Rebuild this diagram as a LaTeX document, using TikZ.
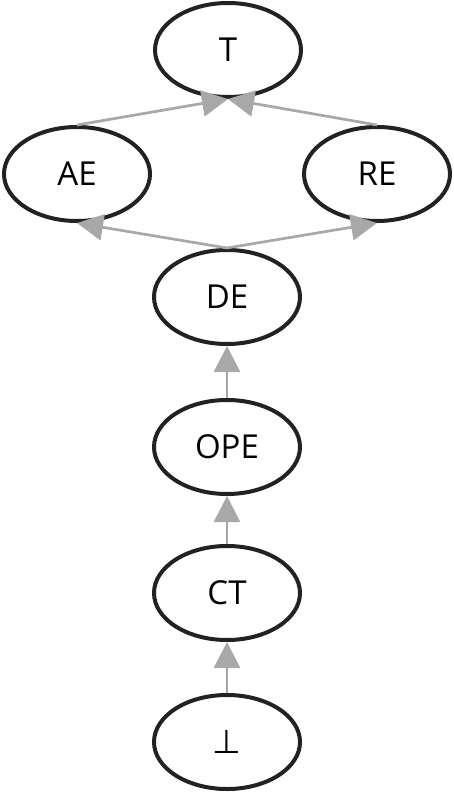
\documentclass[tikz,border=0pt]{standalone}
\usepackage{fontspec}
\setmainfont{Open Sans}
\newfontfamily\symfont{DejaVu Sans}
\usetikzlibrary{arrows.meta,shapes.geometric}
\definecolor{edgegray}{HTML}{A8A8A8}
\definecolor{nodeborder}{HTML}{222222}
\begin{document}
\begin{tikzpicture}[x=1pt,y=1pt,
  stnode/.style={ellipse,draw=nodeborder,line width=4pt,minimum width=146pt,minimum height=94pt,inner sep=0pt,font=\fontsize{33}{36}\selectfont},
  stedge/.style={draw=edgegray,line width=2.7pt,-{Triangle[length=26pt,width=26pt]}}]
\useasboundingbox (0,0) rectangle (453,-794);
\node[stnode] (T) at (228,-50) {T};
\node[stnode] (AE) at (77,-174) {AE};
\node[stnode] (RE) at (377,-174) {RE};
\node[stnode] (DE) at (227,-297) {DE};
\node[stnode] (OPE) at (227,-447) {OPE};
\node[stnode] (CT) at (227,-593) {CT};
\node[stnode] (BOT) at (227,-742) {\symfont ⊥};
\draw[stedge] (AE.north) -- (T.south);
\draw[stedge] (RE.north) -- (T.south);
\draw[stedge] (DE.north) -- (AE.south);
\draw[stedge] (DE.north) -- (RE.south);
\draw[stedge] (OPE.north) -- (DE.south);
\draw[stedge] (CT.north) -- (OPE.south);
\draw[stedge] (BOT.north) -- (CT.south);
\end{tikzpicture}
\end{document}
